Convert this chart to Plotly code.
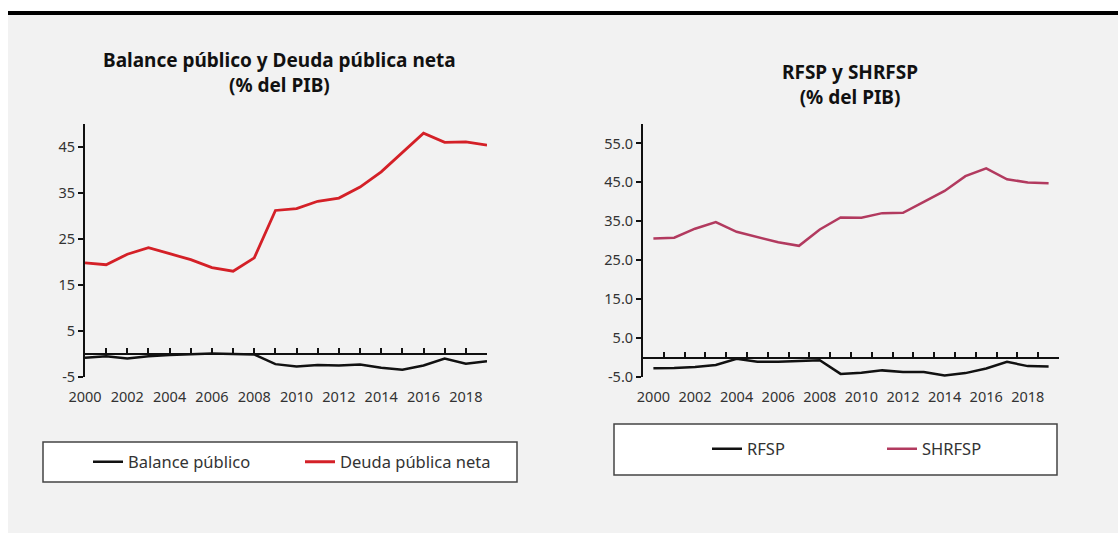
import plotly.graph_objects as go

W, H = 1118, 533

years = list(range(2000, 2020))
balance_publico = [-0.8, -0.5, -1.0, -0.5, -0.2, -0.1, 0.1, 0.0, -0.1, -2.2,
                   -2.7, -2.4, -2.5, -2.3, -3.0, -3.4, -2.5, -1.0, -2.1, -1.6]
deuda_publica_neta = [19.8, 19.4, 21.7, 23.1, 21.8, 20.5, 18.8, 18.0, 20.9, 31.2,
                      31.6, 33.2, 33.9, 36.3, 39.6, 43.7, 48.0, 46.0, 46.1, 45.4]
rfsp = [-2.75, -2.7, -2.4, -1.9, -0.3, -1.1, -1.1, -0.9, -0.7, -4.2,
        -3.9, -3.3, -3.7, -3.7, -4.6, -4.0, -2.8, -1.1, -2.2, -2.3]
shrfsp = [30.6, 30.8, 33.1, 34.8, 32.3, 31.0, 29.6, 28.7, 32.9, 36.0,
          35.9, 37.1, 37.2, 40.0, 42.8, 46.6, 48.6, 45.8, 45.0, 44.8]
even_years = list(range(2000, 2019, 2))
left_yticks = [-5, 5, 15, 25, 35, 45]
left_ytick_text = ["-5", "5", "15", "25", "35", "45"]
right_yticks = [-5, 5, 15, 25, 35, 45, 55]
right_ytick_text = ["-5.0", "5.0", "15.0", "25.0", "35.0", "45.0", "55.0"]

RED = "#d42027"
PINK = "#b23a5f"
BLACK = "#111111"
TXT = "#333333"
FONT = "Noto Sans"


def px(x):
    return x / W


def py(y):
    return 1 - y / H


ydom = [py(377), py(124)]
left_xdom = [px(85), px(487)]
right_xdom = [px(643), px(1059)]
left_yr = [-5, 50]
right_yr = [-5, 60]
zero_left = ydom[0] + (0 - left_yr[0]) / (left_yr[1] - left_yr[0]) * (ydom[1] - ydom[0])
zero_right = ydom[0] + (0 - right_yr[0]) / (right_yr[1] - right_yr[0]) * (ydom[1] - ydom[0])

fig = go.Figure()

# Left chart
fig.add_trace(go.Scatter(x=years, y=balance_publico, mode="lines", name="Balance público",
                         line=dict(color=BLACK, width=2.5), xaxis="x", yaxis="y", legend="legend"))
fig.add_trace(go.Scatter(x=years, y=deuda_publica_neta, mode="lines", name="Deuda pública neta",
                         line=dict(color=RED, width=2.8), xaxis="x", yaxis="y", legend="legend"))
fig.add_trace(go.Scatter(x=years, y=[0] * len(years), mode="lines", showlegend=False,
                         hoverinfo="skip", line=dict(color="rgba(0,0,0,0)"), xaxis="x3", yaxis="y"))

# Right chart
fig.add_trace(go.Scatter(x=years, y=rfsp, mode="lines", name="RFSP",
                         line=dict(color=BLACK, width=2.5), xaxis="x2", yaxis="y2", legend="legend2"))
fig.add_trace(go.Scatter(x=years, y=shrfsp, mode="lines", name="SHRFSP",
                         line=dict(color=PINK, width=2.5), xaxis="x2", yaxis="y2", legend="legend2"))
fig.add_trace(go.Scatter(x=years, y=[0] * len(years), mode="lines", showlegend=False,
                         hoverinfo="skip", line=dict(color="rgba(0,0,0,0)"), xaxis="x4", yaxis="y2"))

tickfont = dict(family=FONT, size=14.5, color=TXT)

xbase = dict(showgrid=False, zeroline=False, showline=False, ticks="outside", ticklen=7,
             tickcolor="rgba(0,0,0,0)", tickvals=even_years, tickfont=tickfont, fixedrange=True,
             automargin=False)
zbase = dict(showgrid=False, zeroline=False, showline=True, linecolor=BLACK, linewidth=2,
             ticks="inside", ticklen=5, tickwidth=1.5, tickcolor=BLACK, dtick=1,
             showticklabels=False, anchor="free", automargin=False)
ybase = dict(showgrid=False, zeroline=False, showline=True, linecolor=BLACK, linewidth=2,
             ticks="outside", ticklen=5, tickwidth=1.5, tickcolor=BLACK, tickfont=tickfont,
             domain=ydom, automargin=False)

fig.update_layout(
    width=W, height=H,
    margin=dict(l=0, r=0, t=0, b=0, pad=0, autoexpand=False),
    paper_bgcolor="white", plot_bgcolor="rgba(0,0,0,0)",
    font=dict(family=FONT, color=TXT),
    xaxis=dict(xbase, domain=left_xdom, range=[2000, 2019], anchor="y"),
    yaxis=dict(ybase, range=left_yr, tickvals=left_yticks, ticktext=left_ytick_text, anchor="x"),
    xaxis3=dict(zbase, domain=left_xdom, range=[2000, 2019], tick0=2000,
                overlaying="x", position=zero_left),
    xaxis2=dict(xbase, domain=right_xdom, range=[1999.5, 2019.5], anchor="y2"),
    yaxis2=dict(ybase, range=right_yr, tickvals=right_yticks, ticktext=right_ytick_text, anchor="x2"),
    xaxis4=dict(zbase, domain=right_xdom, range=[1999.5, 2019.5], tick0=1999.5,
                overlaying="x2", position=zero_right),
    legend=dict(orientation="h", x=px(88), y=py(462), xanchor="left", yanchor="middle",
                bgcolor="rgba(0,0,0,0)", font=dict(family=FONT, size=16.5, color=TXT),
                entrywidth=167, entrywidthmode="pixels"),
    legend2=dict(orientation="h", x=px(707), y=py(449), xanchor="left", yanchor="middle",
                 bgcolor="rgba(0,0,0,0)", font=dict(family=FONT, size=16.5, color=TXT),
                 entrywidth=130, entrywidthmode="pixels"),
    shapes=[
        dict(type="rect", xref="paper", yref="paper", x0=px(8), x1=1, y0=0, y1=py(15),
             fillcolor="#f2f2f2", line=dict(width=0), layer="below"),
        dict(type="rect", xref="paper", yref="paper", x0=px(8), x1=1, y0=py(15), y1=py(11),
             fillcolor="#000000", line=dict(width=0), layer="below"),
        dict(type="rect", xref="paper", yref="paper", x0=px(43), x1=px(517), y0=py(482), y1=py(442),
             fillcolor="white", line=dict(color="#444444", width=1.5), layer="below"),
        dict(type="rect", xref="paper", yref="paper", x0=px(614), x1=px(1057), y0=py(475), y1=py(424),
             fillcolor="white", line=dict(color="#444444", width=1.5), layer="below"),
    ],
    annotations=[
        dict(text="<b>Balance público y Deuda pública neta<br>(% del PIB)</b>", xref="paper", yref="paper",
             x=px(279), y=py(72), xanchor="center", yanchor="middle", showarrow=False,
             font=dict(family=FONT, size=19, color="#111111"), align="center"),
        dict(text="<b>RFSP y SHRFSP<br>(% del PIB)</b>", xref="paper", yref="paper",
             x=px(850), y=py(84), xanchor="center", yanchor="middle", showarrow=False,
             font=dict(family=FONT, size=19, color="#111111"), align="center"),
    ],
)

fig.write_html(
    "out.html",
    config={"displayModeBar": False},
    post_script="document.body.style.margin='0';document.body.style.overflow='hidden';",
)
